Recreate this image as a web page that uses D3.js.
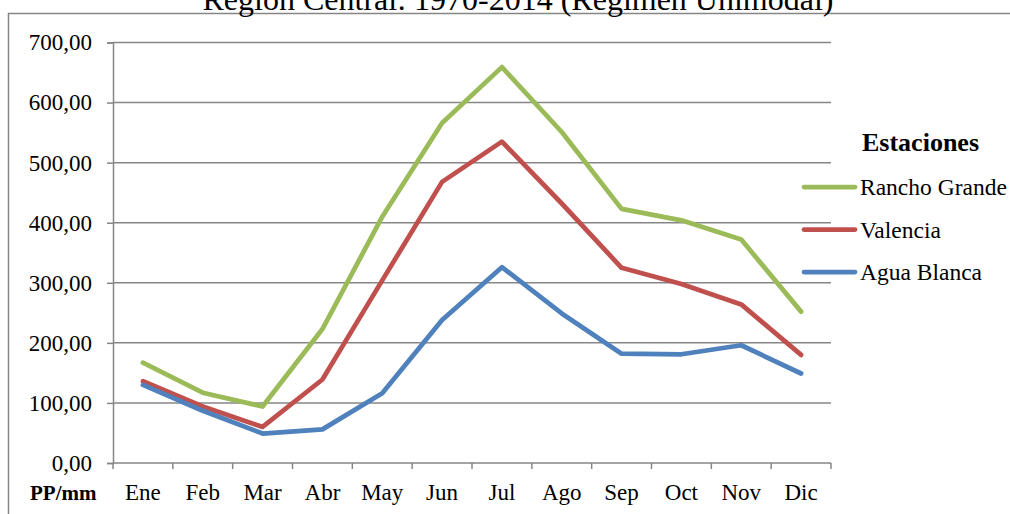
<!DOCTYPE html>
<html>
<head>
<meta charset="utf-8">
<script src="https://cdn.jsdelivr.net/npm/d3@7"></script>
<style>
  body { margin: 0; background: #fff; }
  text { font-family: "Liberation Serif", "Times New Roman", serif; fill: #000; }
</style>
</head>
<body>
<div id="chart"></div>
<script>
const months = ["Ene", "Feb", "Mar", "Abr", "May", "Jun", "Jul", "Ago", "Sep", "Oct", "Nov", "Dic"];
const ranchoGrande = [167, 117, 94, 223, 410, 566, 659, 551, 423, 404, 372, 252];
const valencia = [136, 94, 60, 139, 304, 468, 535, 432, 325, 298, 264, 180];
const aguaBlanca = [130, 87, 49, 56, 116, 238, 326, 249, 182, 181, 196, 149];
const yTicks = [0, 100, 200, 300, 400, 500, 600, 700];
const seriesNames = ["Rancho Grande", "Valencia", "Agua Blanca"];
const seriesColors = ["#9bbb59", "#c0504d", "#4f81bd"];

const W = 1010, H = 514;
const plotLeft = 113, plotRight = 831, plotTop = 42.5, plotBottom = 463;

const svg = d3.select("#chart").append("svg").attr("width", W).attr("height", H);

// outer frame (cut off by the page edge)
svg.append("rect")
  .attr("x", 8.5).attr("y", 13.5)
  .attr("width", 1100).attr("height", 600)
  .attr("fill", "none").attr("stroke", "#868686").attr("stroke-width", 1.5);

svg.append("text")
  .attr("x", 518).attr("y", 10)
  .attr("text-anchor", "middle")
  .style("font-size", "32px")
  .text("Región Central: 1970-2014 (Régimen Unimodal)");

const x = d3.scaleBand().domain(months).range([plotLeft, plotRight]);
const y = d3.scaleLinear().domain([0, 700]).range([plotBottom, plotTop]);

// gridlines
svg.append("g")
  .selectAll("line")
  .data(yTicks.slice(1))
  .join("line")
  .attr("x1", plotLeft).attr("x2", plotRight)
  .attr("y1", d => y(d)).attr("y2", d => y(d))
  .attr("stroke", "#868686").attr("stroke-width", 1.5);

const fmt = d => d3.format(".2f")(d).replace(".", ",");

const yAxis = svg.append("g")
  .attr("transform", `translate(${plotLeft},0)`)
  .call(d3.axisLeft(y).tickValues(yTicks).tickSize(6).tickPadding(15).tickFormat(fmt));
yAxis.select(".domain").attr("stroke", "#868686").attr("stroke-width", 1.5);
yAxis.selectAll(".tick line").attr("stroke", "#868686").attr("stroke-width", 1.5);
yAxis.selectAll(".tick text")
  .style("font-size", "23px")
  .style("font-family", "Liberation Serif, serif")
  .attr("fill", "#000");

// x axis with ticks between categories
const xAxis = svg.append("g").attr("transform", `translate(0,${plotBottom})`);
xAxis.append("line")
  .attr("x1", plotLeft).attr("x2", plotRight)
  .attr("stroke", "#868686").attr("stroke-width", 1.5);
xAxis.selectAll("line.tk")
  .data(months.concat(["end"]))
  .join("line")
  .attr("class", "tk")
  .attr("x1", (d, i) => i < months.length ? x(d) : plotRight)
  .attr("x2", (d, i) => i < months.length ? x(d) : plotRight)
  .attr("y1", 0).attr("y2", 6)
  .attr("stroke", "#868686").attr("stroke-width", 1.5);
xAxis.selectAll("text")
  .data(months)
  .join("text")
  .attr("x", d => x(d) + x.bandwidth() / 2)
  .attr("y", 37)
  .attr("text-anchor", "middle")
  .style("font-size", "23px")
  .text(d => d);

svg.append("text")
  .attr("x", 30).attr("y", 500)
  .style("font-size", "21px").style("font-weight", "bold")
  .text("PP/mm");

const line = d3.line()
  .x((d, i) => x(months[i]) + x.bandwidth() / 2)
  .y(d => y(d));

const allSeries = [ranchoGrande, valencia, aguaBlanca];
svg.append("g")
  .selectAll("path")
  .data(allSeries)
  .join("path")
  .attr("d", d => line(d))
  .attr("fill", "none")
  .attr("stroke", (d, i) => seriesColors[i])
  .attr("stroke-width", 4.75)
  .attr("stroke-linejoin", "round")
  .attr("stroke-linecap", "round");

// legend
const legend = svg.append("g");
legend.append("text")
  .attr("x", 862).attr("y", 151)
  .style("font-size", "26px").style("font-weight", "bold")
  .text("Estaciones");
const rows = legend.selectAll("g.row")
  .data(seriesNames)
  .join("g")
  .attr("class", "row")
  .attr("transform", (d, i) => `translate(0,${187 + i * 42.5})`);
rows.append("line")
  .attr("x1", 804).attr("x2", 855)
  .attr("stroke", (d, i) => seriesColors[i])
  .attr("stroke-width", 4.75)
  .attr("stroke-linecap", "round");
rows.append("text")
  .attr("x", 860).attr("y", 8)
  .style("font-size", "23.5px")
  .text(d => d);
</script>
</body>
</html>
